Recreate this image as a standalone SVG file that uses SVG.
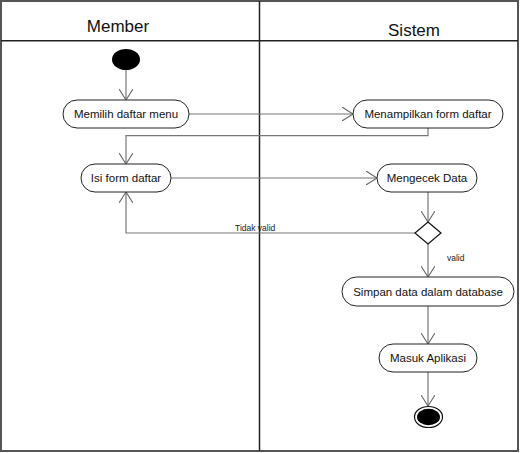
<svg xmlns="http://www.w3.org/2000/svg" width="521" height="453" viewBox="0 0 521 453">
<style>
.frame{fill:none;stroke:#555;stroke-width:2}
.lane{fill:none;stroke:#222;stroke-width:1.5}
.node rect{fill:#fff;stroke:#222;stroke-width:1}
.node text{font-family:"Liberation Sans",Arial,sans-serif;font-size:11.5px;fill:#111;text-anchor:middle}
.head{font-family:"Liberation Sans",Arial,sans-serif;font-size:17px;fill:#111;text-anchor:middle}
.conn{fill:none;stroke:#777;stroke-width:1.2}
.lbl{font-family:"Liberation Sans",Arial,sans-serif;font-size:8.5px;fill:#222}
</style>
<defs>
<marker id="arr" viewBox="0 0 12 14" refX="11" refY="7" markerWidth="12" markerHeight="14" markerUnits="userSpaceOnUse" orient="auto">
<path d="M0,0 L11,7 L0,14" fill="none" stroke="#666" stroke-width="1.1"/>
</marker>
</defs>
<rect width="521" height="453" fill="#fff"/>
<g id="swimlanes">
<rect class="frame" x="1" y="1" width="517" height="450"/>
<line class="lane" x1="1" y1="40.7" x2="518" y2="40.7"/>
<line class="lane" x1="259.5" y1="1" x2="259.5" y2="451"/>
<text class="head" x="118" y="32">Member</text>
<text class="head" x="414" y="36">Sistem</text>
</g>
<g id="connectors">
<path class="conn" d="M126,70 L126,100" marker-end="url(#arr)"/>
<path class="conn" d="M189,114 L353,114" marker-end="url(#arr)"/>
<path class="conn" d="M428,128 L428,135.7 L126,135.7 L126,164" marker-end="url(#arr)"/>
<path class="conn" d="M171,178 L377,178" marker-end="url(#arr)"/>
<path class="conn" d="M428,192 L428,222" marker-end="url(#arr)"/>
<path class="conn" d="M415,233 L126,233 L126,192" marker-end="url(#arr)"/>
<path class="conn" d="M428,244 L428,277" marker-end="url(#arr)"/>
<path class="conn" d="M428,306 L428,344" marker-end="url(#arr)"/>
<path class="conn" d="M428,372 L428,406" marker-end="url(#arr)"/>
<text class="lbl" x="235" y="231">Tidak valid</text>
<text class="lbl" x="447" y="261">valid</text>
</g>
<g id="start"><ellipse cx="126" cy="59.5" rx="14" ry="10.5" fill="#000"/></g>
<g id="n1" class="node"><rect x="63" y="100" width="126" height="28" rx="14"/><text x="126" y="118">Memilih daftar menu</text></g>
<g id="n2" class="node"><rect x="353" y="100" width="150" height="28" rx="14"/><text x="428" y="118">Menampilkan form daftar</text></g>
<g id="n3" class="node"><rect x="81" y="164" width="90" height="28" rx="14"/><text x="126" y="182">Isi form daftar</text></g>
<g id="n4" class="node"><rect x="377" y="164" width="100" height="28" rx="14"/><text x="427" y="182">Mengecek Data</text></g>
<g id="decision"><polygon points="428,222 441,233 428,244 415,233" fill="#fff" stroke="#111" stroke-width="1.2"/></g>
<g id="n5" class="node"><rect x="342" y="277" width="172" height="29" rx="14.5"/><text x="428" y="295.5">Simpan data dalam database</text></g>
<g id="n6" class="node"><rect x="379" y="344" width="98" height="28" rx="14"/><text x="428" y="362">Masuk Aplikasi</text></g>
<g id="end"><ellipse cx="428.5" cy="417" rx="14" ry="10.5" fill="#fff" stroke="#111" stroke-width="1.2"/><ellipse cx="428.5" cy="417" rx="11.5" ry="8.3" fill="#000"/></g>
</svg>
